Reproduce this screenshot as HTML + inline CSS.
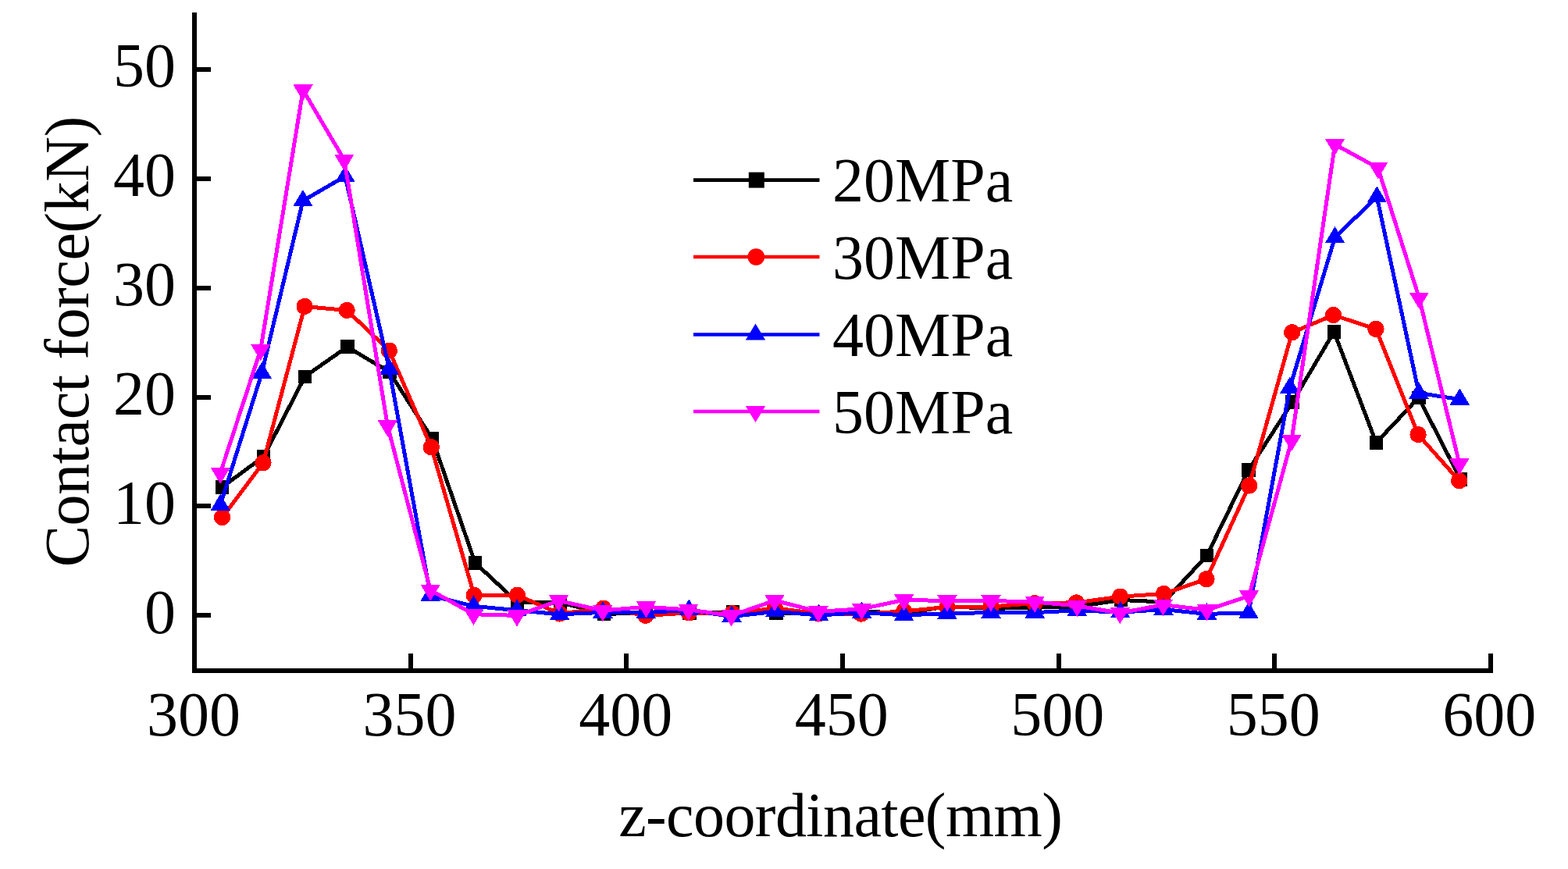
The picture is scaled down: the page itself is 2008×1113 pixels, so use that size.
<!DOCTYPE html>
<html><head><meta charset="utf-8"><title>Contact force chart</title>
<style>html,body{margin:0;padding:0;background:#fff;}svg{display:block;}</style>
</head><body>
<svg width="2008" height="1113" viewBox="0 0 2008 1113">
<rect width="2008" height="1113" fill="#fff"/>
<g font-family="'Liberation Serif', 'Times New Roman', serif" font-size="80" fill="#000">
<text x="225" y="810.6" text-anchor="end">0</text><text x="225" y="670.7" text-anchor="end">10</text><text x="225" y="530.8" text-anchor="end">20</text><text x="225" y="390.9" text-anchor="end">30</text><text x="225" y="251.0" text-anchor="end">40</text><text x="225" y="111.1" text-anchor="end">50</text><text x="248.0" y="941.5" text-anchor="middle">300</text><text x="524.6" y="941.5" text-anchor="middle">350</text><text x="801.2" y="941.5" text-anchor="middle">400</text><text x="1077.7" y="941.5" text-anchor="middle">450</text><text x="1354.2" y="941.5" text-anchor="middle">500</text><text x="1630.8" y="941.5" text-anchor="middle">550</text><text x="1907.3" y="941.5" text-anchor="middle">600</text>
<text x="1076.5" y="1071" text-anchor="middle" textLength="568.7" lengthAdjust="spacing">z-coordinate(mm)</text><text transform="translate(112.8,437.5) rotate(-90)" text-anchor="middle" textLength="577.7" lengthAdjust="spacing">Contact force(kN)</text>
</g>
<g fill="#000" shape-rendering="crispEdges"><rect x="246" y="16.3" width="6" height="845.7"/><rect x="246" y="856" width="1665" height="6"/><rect x="246" y="785.30" width="23.6" height="6"/><rect x="246" y="645.40" width="23.6" height="6"/><rect x="246" y="505.50" width="23.6" height="6"/><rect x="246" y="365.60" width="23.6" height="6"/><rect x="246" y="225.70" width="23.6" height="6"/><rect x="246" y="85.80" width="23.6" height="6"/><rect x="522.90" y="837" width="6" height="25"/><rect x="799.45" y="837" width="6" height="25"/><rect x="1076.00" y="837" width="6" height="25"/><rect x="1352.55" y="837" width="6" height="25"/><rect x="1629.10" y="837" width="6" height="25"/><rect x="1905.65" y="837" width="6" height="25"/></g>
<g shape-rendering="crispEdges">
<polyline points="284.6,623.8 337.6,584.8 390.5,482.3 444.7,444.2 498.7,476.5 553.6,562.0 608.4,720.8 662.3,771.1 717.4,771.5 773.4,786.4 827.0,785.0 883.0,785.0 938.5,784.0 994.0,785.0 1048.5,785.5 1103.6,782.5 1158.0,786.0 1213.3,776.5 1269.0,779.5 1325.0,778.0 1379.3,777.0 1435.3,768.5 1490.5,771.0 1545.6,711.5 1599.0,601.7 1655.0,515.2 1708.4,424.9 1762.3,567.0 1816.7,509.3 1870.4,614.0" fill="none" stroke="#000" stroke-width="5" stroke-linejoin="miter" stroke-miterlimit="4"/><g fill="#000"><rect x="275.8" y="615.0" width="17.6" height="17.6"/><rect x="328.8" y="576.0" width="17.6" height="17.6"/><rect x="381.7" y="473.5" width="17.6" height="17.6"/><rect x="435.9" y="435.4" width="17.6" height="17.6"/><rect x="489.9" y="467.7" width="17.6" height="17.6"/><rect x="544.8" y="553.2" width="17.6" height="17.6"/><rect x="599.6" y="712.0" width="17.6" height="17.6"/><rect x="653.5" y="762.3" width="17.6" height="17.6"/><rect x="708.6" y="762.7" width="17.6" height="17.6"/><rect x="764.6" y="777.6" width="17.6" height="17.6"/><rect x="818.2" y="776.2" width="17.6" height="17.6"/><rect x="874.2" y="776.2" width="17.6" height="17.6"/><rect x="929.7" y="775.2" width="17.6" height="17.6"/><rect x="985.2" y="776.2" width="17.6" height="17.6"/><rect x="1039.7" y="776.7" width="17.6" height="17.6"/><rect x="1094.8" y="773.7" width="17.6" height="17.6"/><rect x="1149.2" y="777.2" width="17.6" height="17.6"/><rect x="1204.5" y="767.7" width="17.6" height="17.6"/><rect x="1260.2" y="770.7" width="17.6" height="17.6"/><rect x="1316.2" y="769.2" width="17.6" height="17.6"/><rect x="1370.5" y="768.2" width="17.6" height="17.6"/><rect x="1426.5" y="759.7" width="17.6" height="17.6"/><rect x="1481.7" y="762.2" width="17.6" height="17.6"/><rect x="1536.8" y="702.7" width="17.6" height="17.6"/><rect x="1590.2" y="592.9" width="17.6" height="17.6"/><rect x="1646.2" y="506.4" width="17.6" height="17.6"/><rect x="1699.6" y="416.1" width="17.6" height="17.6"/><rect x="1753.5" y="558.2" width="17.6" height="17.6"/><rect x="1807.9" y="500.5" width="17.6" height="17.6"/><rect x="1861.6" y="605.2" width="17.6" height="17.6"/></g>
<polyline points="284.6,662.6 337.0,592.9 390.2,392.5 444.3,397.5 498.4,449.1 552.4,572.9 607.3,762.5 662.5,762.3 716.7,786.0 772.7,779.2 826.9,788.4 882.3,784.9 938.0,785.8 992.5,779.0 1048.6,786.0 1102.9,786.2 1157.7,783.0 1213.0,777.3 1269.0,777.0 1325.0,772.6 1378.5,771.8 1434.5,764.2 1490.4,760.4 1545.0,741.8 1599.7,622.0 1654.7,425.8 1707.5,403.6 1762.0,421.4 1816.1,556.6 1868.7,615.7" fill="none" stroke="#f00" stroke-width="5" stroke-linejoin="miter" stroke-miterlimit="4"/><g fill="#f00"><circle cx="284.6" cy="662.6" r="10.6"/><circle cx="337.0" cy="592.9" r="10.6"/><circle cx="390.2" cy="392.5" r="10.6"/><circle cx="444.3" cy="397.5" r="10.6"/><circle cx="498.4" cy="449.1" r="10.6"/><circle cx="552.4" cy="572.9" r="10.6"/><circle cx="607.3" cy="762.5" r="10.6"/><circle cx="662.5" cy="762.3" r="10.6"/><circle cx="716.7" cy="786.0" r="10.6"/><circle cx="772.7" cy="779.2" r="10.6"/><circle cx="826.9" cy="788.4" r="10.6"/><circle cx="882.3" cy="784.9" r="10.6"/><circle cx="938.0" cy="785.8" r="10.6"/><circle cx="992.5" cy="779.0" r="10.6"/><circle cx="1048.6" cy="786.0" r="10.6"/><circle cx="1102.9" cy="786.2" r="10.6"/><circle cx="1157.7" cy="783.0" r="10.6"/><circle cx="1213.0" cy="777.3" r="10.6"/><circle cx="1269.0" cy="777.0" r="10.6"/><circle cx="1325.0" cy="772.6" r="10.6"/><circle cx="1378.5" cy="771.8" r="10.6"/><circle cx="1434.5" cy="764.2" r="10.6"/><circle cx="1490.4" cy="760.4" r="10.6"/><circle cx="1545.0" cy="741.8" r="10.6"/><circle cx="1599.7" cy="622.0" r="10.6"/><circle cx="1654.7" cy="425.8" r="10.6"/><circle cx="1707.5" cy="403.6" r="10.6"/><circle cx="1762.0" cy="421.4" r="10.6"/><circle cx="1816.1" cy="556.6" r="10.6"/><circle cx="1868.7" cy="615.7" r="10.6"/></g>
<polyline points="282.2,646.8 335.3,477.7 387.9,257.2 442.0,225.8 498.4,472.6 551.2,762.7 606.5,776.3 662.0,781.7 716.7,786.8 772.0,784.4 827.5,784.6 882.3,781.3 937.1,789.6 992.5,783.3 1048.6,788.0 1103.6,784.6 1157.7,787.9 1213.0,785.7 1269.0,784.6 1325.2,784.6 1379.3,781.8 1434.7,784.2 1490.0,780.5 1545.6,786.4 1599.0,784.9 1651.8,496.6 1709.5,304.0 1763.3,252.3 1817.0,503.4 1869.3,511.5" fill="none" stroke="#00f" stroke-width="5" stroke-linejoin="miter" stroke-miterlimit="4"/><g fill="#00f"><polygon points="282.2,632.7 294.9,653.9 269.5,653.9"/><polygon points="335.3,463.6 348.0,484.8 322.6,484.8"/><polygon points="387.9,243.1 400.6,264.3 375.2,264.3"/><polygon points="442.0,211.7 454.7,232.9 429.3,232.9"/><polygon points="498.4,458.5 511.1,479.7 485.7,479.7"/><polygon points="551.2,748.6 563.9,769.8 538.5,769.8"/><polygon points="606.5,762.2 619.2,783.4 593.8,783.4"/><polygon points="662.0,767.6 674.7,788.8 649.3,788.8"/><polygon points="716.7,772.7 729.4,793.9 704.0,793.9"/><polygon points="772.0,770.3 784.7,791.5 759.3,791.5"/><polygon points="827.5,770.5 840.2,791.7 814.8,791.7"/><polygon points="882.3,767.2 895.0,788.4 869.6,788.4"/><polygon points="937.1,775.5 949.8,796.7 924.4,796.7"/><polygon points="992.5,769.2 1005.2,790.4 979.8,790.4"/><polygon points="1048.6,773.9 1061.3,795.1 1035.9,795.1"/><polygon points="1103.6,770.5 1116.3,791.7 1090.9,791.7"/><polygon points="1157.7,773.8 1170.4,795.0 1145.0,795.0"/><polygon points="1213.0,771.6 1225.7,792.8 1200.3,792.8"/><polygon points="1269.0,770.5 1281.7,791.7 1256.3,791.7"/><polygon points="1325.2,770.5 1337.9,791.7 1312.5,791.7"/><polygon points="1379.3,767.7 1392.0,788.9 1366.6,788.9"/><polygon points="1434.7,770.1 1447.4,791.3 1422.0,791.3"/><polygon points="1490.0,766.4 1502.7,787.6 1477.3,787.6"/><polygon points="1545.6,772.3 1558.3,793.5 1532.9,793.5"/><polygon points="1599.0,770.8 1611.7,792.0 1586.3,792.0"/><polygon points="1651.8,482.5 1664.5,503.7 1639.1,503.7"/><polygon points="1709.5,289.9 1722.2,311.1 1696.8,311.1"/><polygon points="1763.3,238.2 1776.0,259.4 1750.6,259.4"/><polygon points="1817.0,489.3 1829.7,510.5 1804.3,510.5"/><polygon points="1869.3,497.4 1882.0,518.6 1856.6,518.6"/></g>
<polyline points="282.2,605.8 333.7,448.0 388.1,115.4 440.9,204.8 496.3,545.2 551.2,755.8 606.4,786.7 662.0,788.4 715.5,769.4 771.8,782.0 827.5,777.3 881.6,780.9 936.7,788.4 992.1,769.1 1048.0,783.3 1103.6,779.9 1157.7,768.4 1213.0,769.5 1269.0,769.5 1325.2,770.9 1379.3,776.0 1434.3,785.1 1489.5,774.6 1545.6,781.3 1599.5,763.3 1654.0,564.2 1709.5,184.9 1764.6,215.1 1817.4,381.6 1869.0,594.2" fill="none" stroke="#f0f" stroke-width="5" stroke-linejoin="miter" stroke-miterlimit="4"/><g fill="#f0f"><polygon points="269.5,598.7 294.9,598.7 282.2,619.9"/><polygon points="321.0,440.9 346.4,440.9 333.7,462.1"/><polygon points="375.4,108.3 400.8,108.3 388.1,129.5"/><polygon points="428.2,197.7 453.6,197.7 440.9,218.9"/><polygon points="483.6,538.1 509.0,538.1 496.3,559.3"/><polygon points="538.5,748.7 563.9,748.7 551.2,769.9"/><polygon points="593.7,779.6 619.1,779.6 606.4,800.8"/><polygon points="649.3,781.3 674.7,781.3 662.0,802.5"/><polygon points="702.8,762.3 728.2,762.3 715.5,783.5"/><polygon points="759.1,774.9 784.5,774.9 771.8,796.1"/><polygon points="814.8,770.2 840.2,770.2 827.5,791.4"/><polygon points="868.9,773.8 894.3,773.8 881.6,795.0"/><polygon points="924.0,781.3 949.4,781.3 936.7,802.5"/><polygon points="979.4,762.0 1004.8,762.0 992.1,783.2"/><polygon points="1035.3,776.2 1060.7,776.2 1048.0,797.4"/><polygon points="1090.9,772.8 1116.3,772.8 1103.6,794.0"/><polygon points="1145.0,761.3 1170.4,761.3 1157.7,782.5"/><polygon points="1200.3,762.4 1225.7,762.4 1213.0,783.6"/><polygon points="1256.3,762.4 1281.7,762.4 1269.0,783.6"/><polygon points="1312.5,763.8 1337.9,763.8 1325.2,785.0"/><polygon points="1366.6,768.9 1392.0,768.9 1379.3,790.1"/><polygon points="1421.6,778.0 1447.0,778.0 1434.3,799.2"/><polygon points="1476.8,767.5 1502.2,767.5 1489.5,788.7"/><polygon points="1532.9,774.2 1558.3,774.2 1545.6,795.4"/><polygon points="1586.8,756.2 1612.2,756.2 1599.5,777.4"/><polygon points="1641.3,557.1 1666.7,557.1 1654.0,578.3"/><polygon points="1696.8,177.8 1722.2,177.8 1709.5,199.0"/><polygon points="1751.9,208.0 1777.3,208.0 1764.6,229.2"/><polygon points="1804.7,374.5 1830.1,374.5 1817.4,395.7"/><polygon points="1856.3,587.1 1881.7,587.1 1869.0,608.3"/></g>
</g>
<g font-family="'Liberation Serif', 'Times New Roman', serif" font-size="80" fill="#000">
<line x1="888" y1="230.6" x2="1049.5" y2="230.6" stroke="#000" stroke-width="4.7"/><line x1="888" y1="329" x2="1049.5" y2="329" stroke="#f00" stroke-width="4.7"/><line x1="888" y1="428.5" x2="1049.5" y2="428.5" stroke="#00f" stroke-width="4.7"/><line x1="888" y1="527" x2="1049.5" y2="527" stroke="#f0f" stroke-width="4.7"/><rect x="958.8" y="220.6" width="20" height="20" fill="#000"/><circle cx="968.3" cy="329" r="10.8" fill="#f00"/><g fill="#00f"><polygon points="967.5,414.4 980.2,435.6 954.8,435.6"/></g><g fill="#f0f"><polygon points="954.8,519.9 980.2,519.9 967.5,541.1"/></g><text x="1066" y="258.4">20MPa</text><text x="1066" y="356.8">30MPa</text><text x="1066" y="456.3">40MPa</text><text x="1066" y="554.8">50MPa</text>
</g>
</svg>
</body></html>
